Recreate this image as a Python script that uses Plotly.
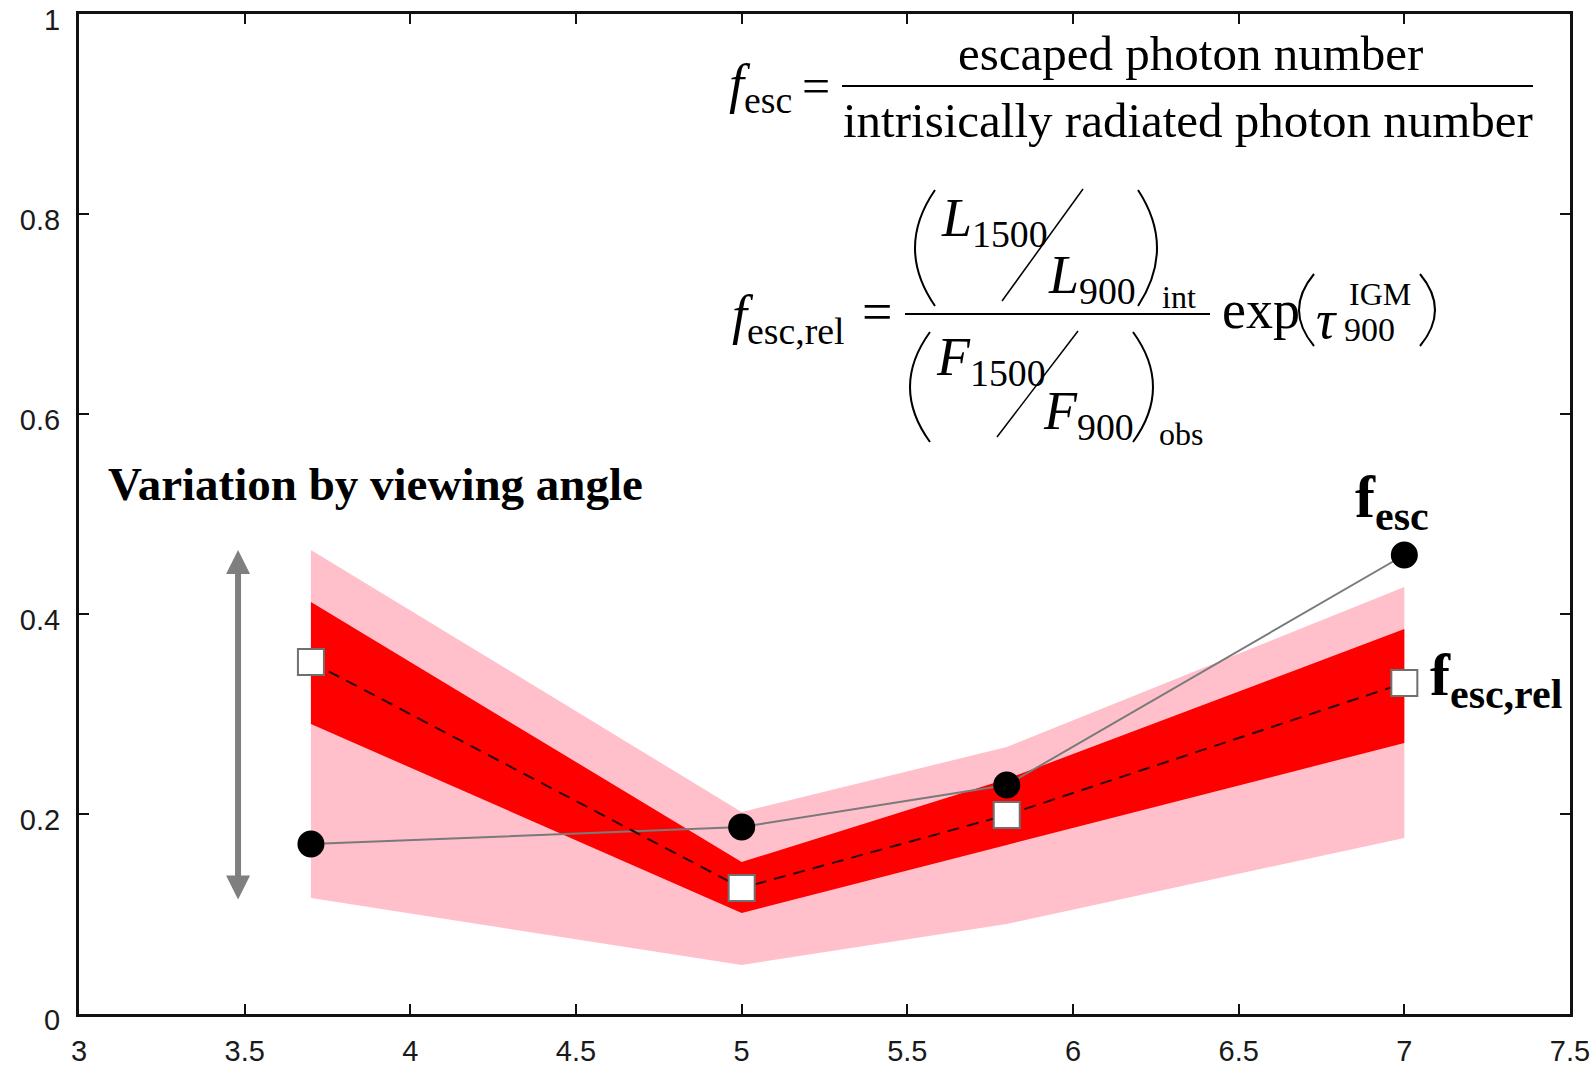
import plotly.graph_objects as go

# ---- data ----
z = [3.7, 5.0, 5.8, 7.0]
f_esc = [0.170, 0.187, 0.229, 0.459]
f_esc_rel = [0.352, 0.126, 0.199, 0.331]
pink_hi = [0.464, 0.202, 0.267, 0.427]
pink_lo = [0.116, 0.049, 0.090, 0.176]
red_hi = [0.412, 0.152, 0.235, 0.385]
red_lo = [0.290, 0.101, 0.169, 0.271]
x_ticks = [3, 3.5, 4, 4.5, 5, 5.5, 6, 6.5, 7, 7.5]
x_tick_text = ["3", "3.5", "4", "4.5", "5", "5.5", "6", "6.5", "7", "7.5"]
y_ticks = [0, 0.2, 0.4, 0.6, 0.8, 1]
y_tick_text = ["0", "0.2", "0.4", "0.6", "0.8", "1"]
arrow_x = 3.48
arrow_range = [0.113, 0.464]

W, H = 1595, 1065
L, R, T, B = 79, 25, 14, 51
PW, PH = W - L - R, H - T - B


def px(x):
    return (x - L) / PW


def py(y):
    return (T + PH - y) / PH


fig = go.Figure()
fig.add_trace(go.Scatter(x=z, y=pink_lo, mode="lines", line=dict(width=0, color="pink"),
                         showlegend=False, hoverinfo="skip"))
fig.add_trace(go.Scatter(x=z, y=pink_hi, mode="lines", line=dict(width=0, color="pink"),
                         fill="tonexty", fillcolor="#FFC0CB", showlegend=False, hoverinfo="skip"))
fig.add_trace(go.Scatter(x=z, y=red_lo, mode="lines", line=dict(width=0, color="red"),
                         showlegend=False, hoverinfo="skip"))
fig.add_trace(go.Scatter(x=z, y=red_hi, mode="lines", line=dict(width=0, color="red"),
                         fill="tonexty", fillcolor="#FF0000", showlegend=False, hoverinfo="skip"))
fig.add_trace(go.Scatter(x=z, y=f_esc, mode="lines+markers", name="f_esc",
                         line=dict(color="#7a7a7a", width=2),
                         marker=dict(symbol="circle", size=27, color="black"),
                         showlegend=False))
fig.add_trace(go.Scatter(x=z, y=f_esc_rel, mode="lines+markers", name="f_esc,rel",
                         line=dict(color="#2a0808", width=2, dash="12px,8px"),
                         marker=dict(symbol="square", size=26, color="white",
                                     line=dict(color="#707070", width=2)),
                         showlegend=False))

SERIF = "Liberation Serif"
ann = []


def txt(text, x, y, size, anchor="left", family=SERIF):
    ann.append(dict(text=text, x=px(x), y=py(y), xref="paper", yref="paper",
                    xanchor=anchor, yanchor="middle", showarrow=False,
                    font=dict(family=family, size=size, color="black")))


# formula 1
txt("<i>f</i><sub>esc</sub>", 727, 88, 54)
txt("=", 816, 86, 50, "center")
txt("escaped photon number", 1190, 53, 49, "center")
txt("intrisically radiated photon number", 1188, 121, 49, "center")
# formula 2
txt("<i>f</i><sub>esc,rel</sub>", 730, 318, 54)
txt("=", 877, 312, 54, "center")
txt("<i>L</i><sub>1500</sub>", 939, 222, 54)
txt("<i>L</i><sub>900</sub>", 1046, 278, 54)
txt("int", 1160, 297, 32)
txt("<i>F</i><sub>1500</sub>", 934, 360, 54)
txt("<i>F</i><sub>900</sub>", 1041, 414, 54)
txt("obs", 1157, 434, 32)
txt("exp", 1220, 310, 54)
txt("<i>τ</i>", 1314, 320, 54)
txt("IGM", 1347, 294, 32)
txt("900", 1342, 330, 34)
# chart labels
txt("<b>Variation by viewing angle</b>", 106, 484, 47)
txt("<b>f<sub>esc</sub></b>", 1392, 501, 60, "center")
txt("<b>f<sub>esc,rel</sub></b>", 1428, 680, 60)

ann.append(dict(x=arrow_x, y=arrow_range[1], ax=arrow_x, ay=arrow_range[0],
                xref="x", yref="y", axref="x", ayref="y", text="",
                showarrow=True, arrowhead=2, arrowside="end+start",
                arrowsize=0.8, arrowwidth=6, arrowcolor="#7f7f7f"))

shapes = []


def seg(x0, y0, x1, y1, w=2):
    shapes.append(dict(type="line", xref="paper", yref="paper",
                       x0=px(x0), y0=py(y0), x1=px(x1), y1=py(y1),
                       line=dict(color="black", width=w)))


def paren(x_end, y_top, x_mid, y_bot, w=2):
    c = 2 * x_mid - x_end
    path = "M {},{} Q {},{} {},{}".format(px(x_end), py(y_top), px(c), py((y_top + y_bot) / 2),
                                          px(x_end), py(y_bot))
    shapes.append(dict(type="path", xref="paper", yref="paper", path=path,
                       line=dict(color="black", width=w)))


seg(842, 86, 1533, 86)
seg(905, 314, 1210, 314)
seg(1002, 301, 1083, 189, 1.5)
seg(997, 437, 1078, 331, 1.5)
paren(935, 190, 915, 306)
paren(1138, 190, 1157, 306)
paren(930, 332, 910, 442)
paren(1133, 332, 1153, 442)
paren(1314, 274, 1299, 346)
paren(1420, 274, 1435, 346)

axis_common = dict(showline=True, linecolor="#111", linewidth=3, mirror="ticks",
                   ticks="inside", ticklen=10, tickwidth=2, tickcolor="#111",
                   showgrid=False, zeroline=False, automargin=False,
                   ticklabeloverflow="allow",
                   tickfont=dict(family="Liberation Sans", size=29, color="#1a1a1a"))

fig.update_layout(
    width=W, height=H,
    margin=dict(l=L, r=R, t=T, b=B),
    paper_bgcolor="white", plot_bgcolor="white",
    xaxis=dict(range=[3, 7.5], tickvals=x_ticks, ticktext=x_tick_text,
               ticklabelstandoff=9, **axis_common),
    yaxis=dict(range=[0, 1], tickvals=y_ticks, ticktext=y_tick_text,
               ticklabelstandoff=10, ticklabelshift=6, **axis_common),
    annotations=ann, shapes=shapes,
)

fig.write_html("out.html")
